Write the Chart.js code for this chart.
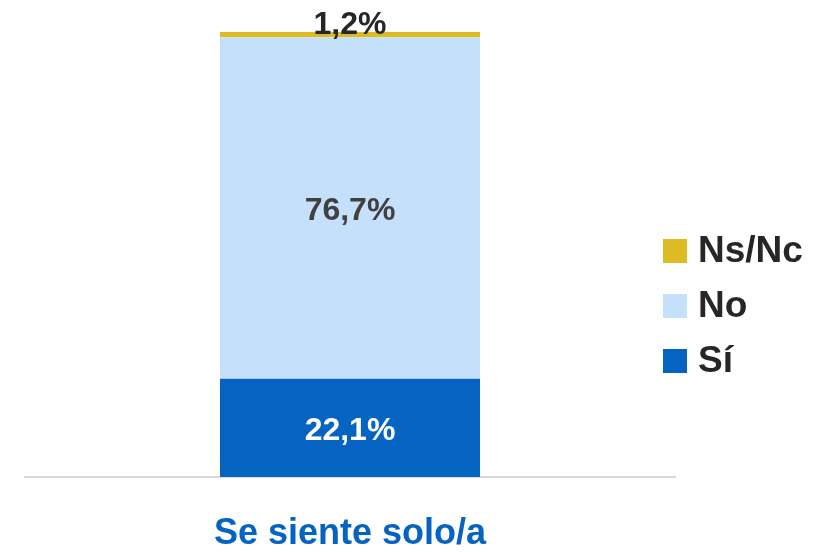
<!DOCTYPE html>
<html lang="es">
<head>
<meta charset="utf-8">
<title>Se siente solo/a</title>
<script src="https://cdn.jsdelivr.net/npm/chart.js@4/dist/chart.umd.min.js"></script>
<style>
  html, body { margin: 0; padding: 0; background: #ffffff; }
  canvas { display: block; }
</style>
</head>
<body>
<canvas id="chart" width="822" height="552"></canvas>
<script>
// Survey answers, percentage of respondents
const categories = ['Se siente solo/a'];
const seriesNames = ['Sí', 'No', 'Ns/Nc'];
const siValues = [22.1];
const noValues = [76.7];
const nsncValues = [1.2];

const FONT = "'Liberation Sans', Arial, sans-serif";

function formatPct(v) {
  return v.toFixed(1).replace('.', ',') + '%';
}

// Percent labels on each segment
const segmentLabels = {
  id: 'segmentLabels',
  afterDatasetsDraw(chart) {
    const ctx = chart.ctx;
    ctx.save();
    ctx.font = 'bold 32px ' + FONT;
    ctx.textAlign = 'center';
    chart.data.datasets.forEach((ds, i) => {
      const meta = chart.getDatasetMeta(i);
      meta.data.forEach((bar, j) => {
        const text = formatPct(ds.data[j]);
        ctx.fillStyle = ds.labelColor;
        if (ds.labelAbove) {
          ctx.textBaseline = 'alphabetic';
          ctx.fillText(text, bar.x, bar.y + 2);
        } else {
          ctx.textBaseline = 'middle';
          ctx.fillText(text, bar.x, (bar.y + bar.base) / 2 + 3);
        }
      });
    });
    ctx.restore();
  }
};

// Legend at the right, top series first
const sideLegend = {
  id: 'sideLegend',
  afterDraw(chart) {
    const ctx = chart.ctx;
    const area = chart.chartArea;
    const boxX = area.right - 12;
    const box = 24;
    const gap = 55;
    const items = chart.data.datasets.slice().reverse();
    const midY = 306;
    ctx.save();
    ctx.font = 'bold 37px ' + FONT;
    ctx.textAlign = 'left';
    ctx.textBaseline = 'middle';
    items.forEach((ds, k) => {
      const cy = midY + (k - (items.length - 1) / 2) * gap;
      ctx.fillStyle = ds.backgroundColor;
      ctx.fillRect(boxX, cy - box / 2, box, box);
      ctx.fillStyle = '#262626';
      ctx.fillText(ds.label, boxX + box + 11, cy + 1);
    });
    ctx.restore();
  }
};

new Chart(document.getElementById('chart'), {
  type: 'bar',
  data: {
    labels: categories,
    datasets: [
      { label: seriesNames[0], data: siValues, backgroundColor: '#0563C1', labelColor: '#ffffff' },
      { label: seriesNames[1], data: noValues, backgroundColor: '#C4E0FA', labelColor: '#404040' },
      { label: seriesNames[2], data: nsncValues, backgroundColor: '#DDBB22', labelColor: '#262626', labelAbove: true }
    ]
  },
  options: {
    responsive: false,
    animation: false,
    devicePixelRatio: 1,
    layout: { padding: { left: 25, right: 147, top: 32, bottom: 0 } },
    datasets: {
      bar: { categoryPercentage: 1, barPercentage: 0.4, borderWidth: 0 }
    },
    plugins: {
      legend: { display: false },
      tooltip: { enabled: false }
    },
    scales: {
      x: {
        stacked: true,
        grid: { display: false, drawTicks: false },
        border: { display: true, color: '#D9D9D9', width: 2 },
        ticks: {
          color: '#0563C1',
          padding: 35,
          font: { family: FONT, size: 36, weight: 'bold' }
        },
        afterFit(scale) { scale.height = 75; }
      },
      y: {
        stacked: true,
        display: false,
        min: 0,
        max: 100
      }
    }
  },
  plugins: [segmentLabels, sideLegend]
});
</script>
</body>
</html>
